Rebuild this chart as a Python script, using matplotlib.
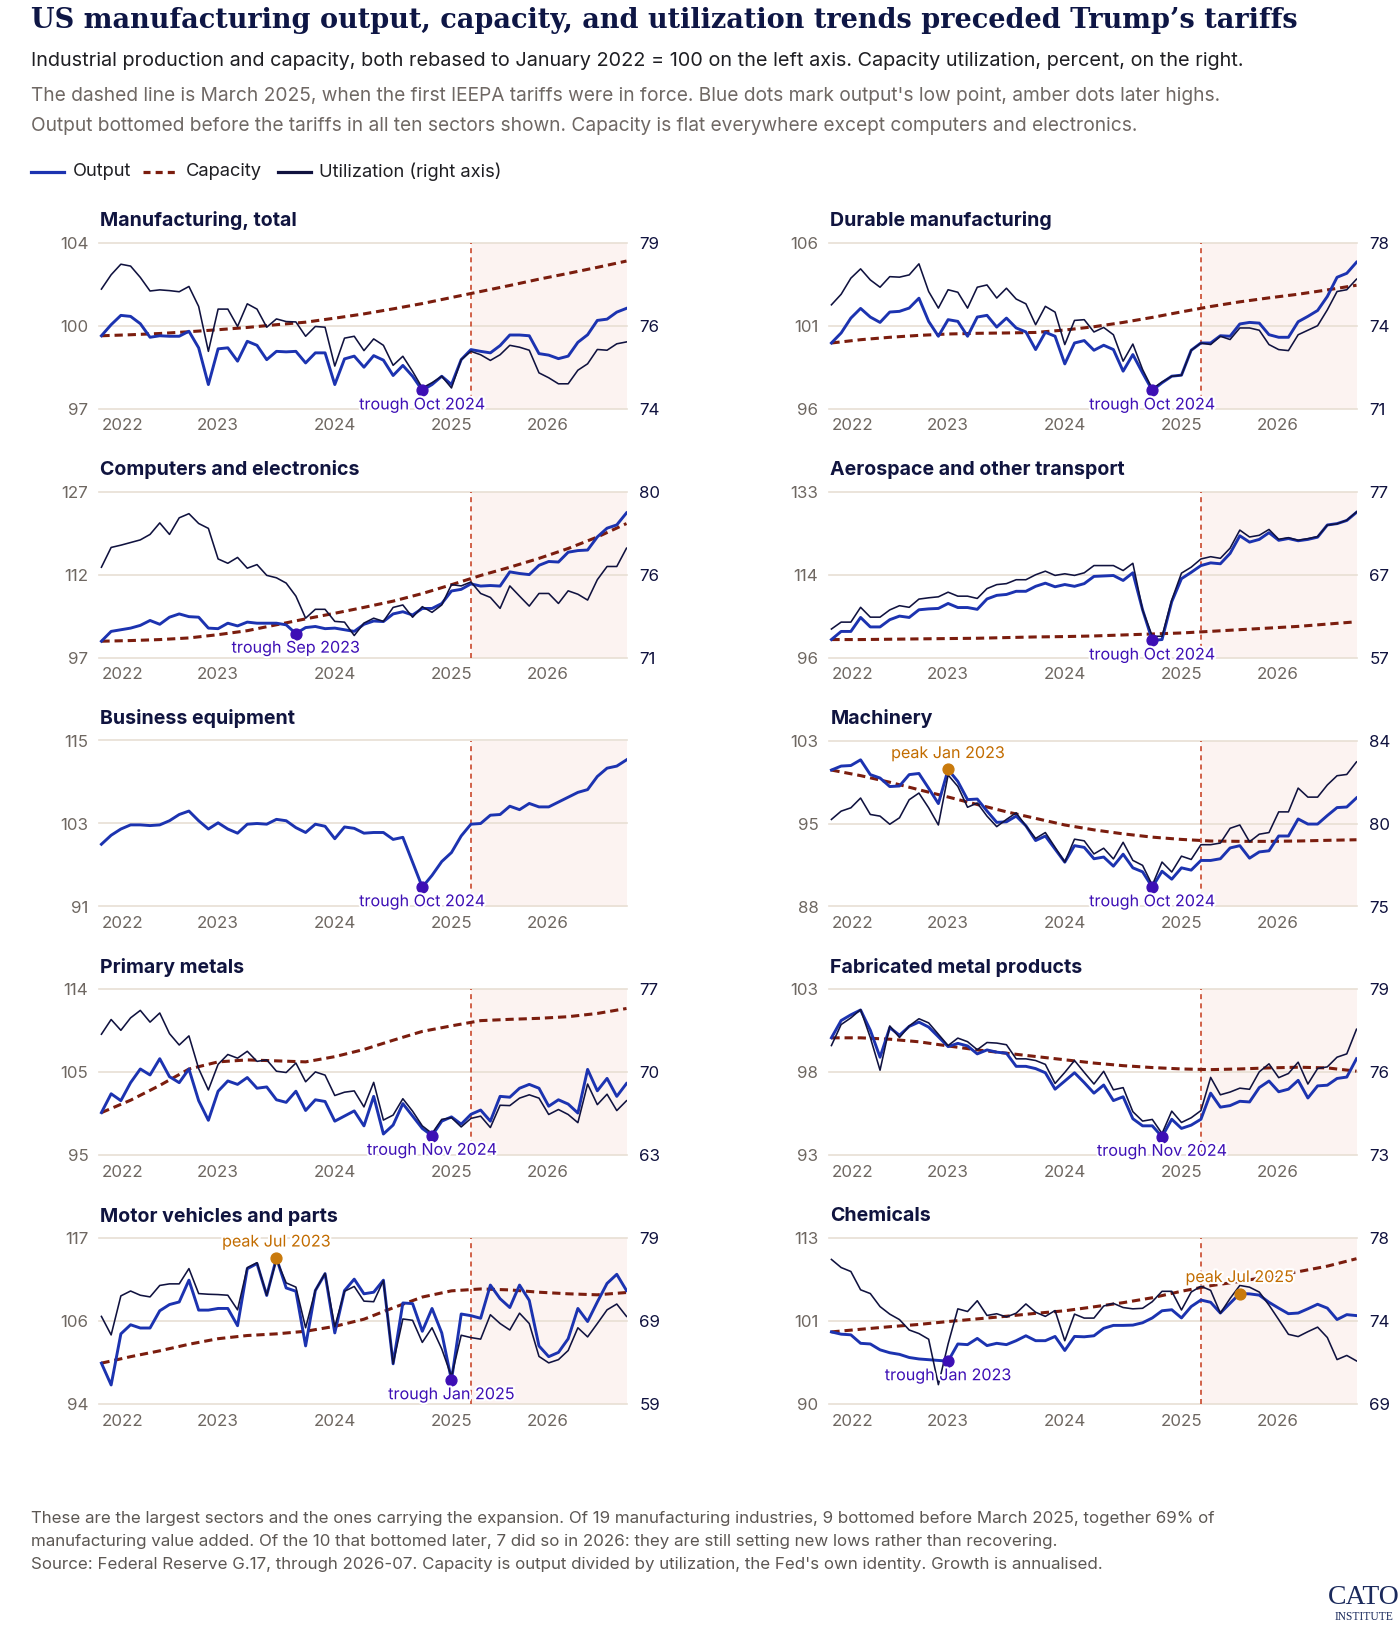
import matplotlib.pyplot as plt
import matplotlib.patheffects as pe
from matplotlib.lines import Line2D
import numpy as np
import pandas as pd

plt.rcParams['font.family'] = ['Inter', 'DejaVu Sans']

months = pd.date_range('2022-01-01', '2026-07-01', freq='MS')
tariff_month = '2025-03'
year_labels = ['2022', '2023', '2024', '2025', '2026']

# Manufacturing, total
mfg_output = [100.0, 100.44, 100.81, 100.77, 100.48, 99.94, 100.0, 99.98, 99.98, 100.18, 99.52, 98.06,
              99.48, 99.52, 98.99, 99.78, 99.62, 99.05, 99.38, 99.36, 99.38, 98.92, 99.32, 99.32,
              98.06, 99.08, 99.19, 98.75, 99.21, 99.03, 98.42, 98.82, 98.39, 97.83, 98.06, 98.39,
              98.06, 99.05, 99.45, 99.38, 99.32, 99.61, 100.03, 100.03, 100.0, 99.29, 99.23, 99.09,
              99.19, 99.74, 100.04, 100.61, 100.66, 100.94, 101.09]
mfg_util = [77.37, 77.75, 78.03, 77.98, 77.68, 77.32, 77.35, 77.33, 77.30, 77.44, 76.91, 75.72,
            76.84, 76.84, 76.38, 76.98, 76.84, 76.36, 76.58, 76.51, 76.50, 76.12, 76.38, 76.36,
            75.33, 76.07, 76.12, 75.74, 76.05, 75.88, 75.35, 75.59, 75.19, 74.75, 74.89, 75.06,
            74.75, 75.50, 75.72, 75.63, 75.48, 75.63, 75.88, 75.83, 75.75, 75.15, 75.02, 74.86,
            74.86, 75.22, 75.39, 75.77, 75.75, 75.92, 75.97]
mfg_capacity = [100.0, 100.04, 100.09, 100.16, 100.24, 100.33, 100.44, 100.54, 100.7, 100.87,
                101.07, 101.28, 101.52, 101.76, 102.0, 102.25, 102.48, 102.72, 102.97]

# Durable manufacturing
dur_output = [100.0, 100.58, 101.44, 102.0, 101.5, 101.19, 101.79, 101.83, 102.02, 102.59, 101.25, 100.39,
              101.35, 101.25, 100.39, 101.5, 101.6, 100.92, 101.44, 100.87, 100.64, 99.62, 100.62, 100.39,
              98.79, 100.0, 100.14, 99.58, 99.87, 99.62, 98.37, 99.33, 98.27, 97.26, 97.7, 98.08,
              98.14, 99.58, 100.0, 100.0, 100.42, 100.39, 101.1, 101.19, 101.15, 100.48, 100.33, 100.33,
              101.23, 101.54, 101.88, 102.69, 103.8, 104.03, 104.67]
dur_util = [75.13, 75.55, 76.19, 76.56, 76.12, 75.83, 76.25, 76.23, 76.32, 76.76, 75.66, 75.0,
            75.73, 75.63, 75.0, 75.83, 75.92, 75.4, 75.79, 75.36, 75.17, 74.34, 75.07, 74.84,
            73.55, 74.51, 74.54, 74.05, 74.23, 73.94, 72.89, 73.57, 72.56, 71.79, 72.06, 72.29,
            72.33, 73.32, 73.61, 73.55, 73.88, 73.75, 74.21, 74.21, 74.12, 73.55, 73.35, 73.31,
            73.94, 74.12, 74.3, 74.93, 75.66, 75.73, 76.15]
dur_capacity = [100.0, 100.19, 100.33, 100.44, 100.52, 100.56, 100.58, 100.61, 100.75, 100.94,
                101.19, 101.48, 101.8, 102.11, 102.38, 102.61, 102.82, 103.07, 103.34]

# Computers and electronics
comp_output = [100.0, 101.8, 102.1, 102.4, 102.9, 103.8, 103.1, 104.4, 105.0, 104.5, 104.4, 102.4,
               102.3, 103.3, 102.8, 103.5, 103.3, 103.3, 103.3, 103.0, 101.4, 102.5, 102.7, 102.3,
               102.4, 102.1, 101.8, 103.1, 103.7, 103.6, 105.0, 105.4, 104.8, 106.0, 106.0, 106.9,
               109.2, 109.5, 110.5, 110.1, 110.2, 110.1, 112.7, 112.4, 112.2, 113.9, 114.6, 114.5,
               116.3, 116.6, 116.7, 119.1, 120.7, 121.3, 123.5]
comp_util = [76.09, 77.14, 77.26, 77.4, 77.54, 77.83, 78.44, 77.83, 78.71, 78.93, 78.41, 78.15,
             76.53, 76.3, 76.61, 76.04, 76.23, 75.66, 75.53, 75.25, 74.56, 73.39, 73.86, 73.86,
             73.22, 73.18, 72.47, 73.13, 73.39, 73.22, 73.96, 74.09, 73.44, 74.0, 73.7, 74.09,
             75.17, 75.1, 75.31, 74.7, 74.49, 73.91, 75.1, 74.56, 74.03, 74.7, 74.7, 74.17,
             74.84, 74.66, 74.35, 75.43, 76.13, 76.13, 77.1]
comp_capacity = [100.0, 100.12, 100.3, 100.6, 101.2, 101.93, 103.01, 104.09, 105.12, 106.2,
                 107.34, 108.73, 110.35, 112.04, 113.55, 115.17, 116.98, 119.08, 121.55]

# Aerospace and other transport
aero_output = [100.0, 101.8, 101.8, 104.9, 102.8, 102.8, 104.4, 105.2, 104.9, 106.6, 106.8, 106.9,
               108.0, 107.1, 107.1, 106.7, 109.0, 109.8, 110.0, 110.7, 110.7, 111.8, 112.5, 111.7,
               112.2, 111.8, 112.4, 114.0, 114.1, 114.2, 113.1, 114.8, 106.6, 99.8, 100.0, 108.4,
               113.5, 114.9, 116.4, 117.0, 116.8, 119.1, 123.0, 121.6, 122.2, 123.7, 122.0, 122.4,
               121.9, 122.2, 122.7, 125.4, 125.7, 126.4, 128.2]
aero_util = [60.31, 61.16, 61.16, 62.98, 61.77, 61.77, 62.66, 63.18, 62.98, 63.99, 64.15, 64.27,
             64.84, 64.35, 64.35, 64.07, 65.28, 65.77, 65.89, 66.37, 66.37, 66.98, 67.42, 66.9,
             67.1, 66.9, 67.22, 68.11, 68.11, 68.11, 67.5, 68.39, 62.66, 59.42, 59.42, 63.87,
             67.18, 67.91, 68.92, 69.2, 69.0, 70.25, 72.47, 71.62, 71.83, 72.55, 71.34, 71.54,
             71.22, 71.42, 71.67, 73.08, 73.24, 73.69, 74.7]
aero_capacity = [100.0, 100.0, 100.07, 100.15, 100.22, 100.29, 100.44, 100.58, 100.66, 100.8,
                 101.02, 101.24, 101.46, 101.82, 102.19, 102.55, 102.92, 103.43, 103.94]

# Business equipment (output only)
biz_output = [100.0, 101.3, 102.2, 102.8, 102.8, 102.7, 102.8, 103.4, 104.3, 104.8, 103.4, 102.2,
              103.1, 102.2, 101.6, 102.9, 103.0, 102.9, 103.6, 103.4, 102.4, 101.7, 102.9, 102.6,
              100.8, 102.5, 102.3, 101.6, 101.7, 101.7, 100.7, 101.0, 97.4, 93.8, 95.5, 97.5,
              98.8, 101.2, 102.9, 103.0, 104.2, 104.3, 105.5, 105.0, 105.9, 105.4, 105.4, 106.1,
              106.8, 107.5, 107.9, 109.8, 111.0, 111.3, 112.2]

# Machinery
mach_output = [100.0, 100.35, 100.4, 100.9, 99.6, 99.3, 98.55, 98.6, 99.6, 99.7, 98.4, 97.05,
               100.05, 99.0, 97.4, 97.45, 96.4, 95.4, 95.45, 95.95, 95.1, 93.8, 94.2, 93.05,
               91.9, 93.35, 93.2, 92.2, 92.35, 91.55, 92.6, 91.4, 91.05, 89.7, 91.1, 90.4,
               91.4, 91.2, 92.05, 92.05, 92.2, 93.15, 93.35, 92.25, 92.8, 92.9, 94.2, 94.2,
               95.7, 95.25, 95.25, 96.0, 96.7, 96.75, 97.55]
mach_util = [79.92, 80.37, 80.55, 81.08, 80.19, 80.1, 79.66, 80.01, 80.99, 81.35, 80.55, 79.62,
             82.33, 81.71, 80.58, 80.81, 80.1, 79.53, 79.92, 80.28, 79.57, 78.89, 79.21, 78.41,
             77.61, 78.85, 78.76, 78.05, 78.36, 77.78, 78.68, 77.7, 77.43, 76.36, 77.61, 77.07,
             77.93, 77.75, 78.55, 78.55, 78.64, 79.44, 79.62, 78.71, 79.12, 79.21, 80.33, 80.33,
             81.62, 81.13, 81.13, 81.79, 82.29, 82.36, 83.04]
mach_capacity = [100.0, 99.51, 98.93, 98.27, 97.63, 96.97, 96.33, 95.75, 95.17, 94.74,
                 94.39, 94.1, 93.9, 93.76, 93.73, 93.73, 93.76, 93.82, 93.87]

# Primary metals
metal_output = [100.0, 102.2, 101.4, 103.5, 105.1, 104.4, 106.3, 104.2, 103.5, 105.1, 101.4, 99.1,
                102.5, 103.7, 103.3, 104.1, 102.85, 103.0, 101.5, 101.2, 102.5, 100.25, 101.5, 101.3,
                99.0, 99.6, 100.2, 98.45, 101.9, 97.5, 98.55, 101.05, 99.6, 98.15, 97.3, 99.0,
                99.5, 98.65, 99.8, 100.3, 99.0, 101.9, 101.8, 102.85, 103.3, 102.85, 100.75, 101.5,
                101.0, 99.95, 105.05, 102.55, 104.0, 101.9, 103.4]
metal_util = [73.22, 74.46, 73.55, 74.6, 75.23, 74.24, 75.01, 73.27, 72.31, 73.08, 70.32, 68.52,
              70.68, 71.51, 71.2, 71.78, 70.93, 71.06, 70.1, 69.99, 70.79, 69.21, 70.04, 69.77,
              68.05, 68.33, 68.44, 67.09, 69.16, 65.98, 66.4, 67.78, 66.73, 65.49, 64.85, 66.04,
              66.18, 65.4, 66.12, 66.31, 65.35, 67.23, 67.2, 67.83, 68.11, 67.83, 66.45, 66.87,
              66.45, 65.76, 69.02, 67.28, 68.16, 66.78, 67.61]
metal_capacity = [100.0, 101.45, 103.18, 105.09, 105.93, 106.16, 106.05, 105.93, 106.54, 107.38,
                  108.46, 109.49, 110.14, 110.75, 110.9, 111.02, 111.21, 111.59, 112.17]

# Fabricated metal products
fab_output = [100.0, 101.0, 101.33, 101.61, 100.44, 98.88, 100.59, 100.15, 100.66, 100.91, 100.62, 100.06,
              99.49, 99.68, 99.53, 99.07, 99.3, 99.17, 99.11, 98.35, 98.35, 98.22, 97.98, 97.03,
              97.5, 97.98, 97.41, 96.8, 97.27, 96.37, 96.59, 95.32, 94.91, 94.91, 94.28, 95.29,
              94.76, 94.95, 95.29, 96.8, 95.99, 96.08, 96.33, 96.29, 97.12, 97.5, 96.88, 97.03,
              97.54, 96.52, 97.22, 97.26, 97.65, 97.73, 98.79]
fab_util = [76.97, 77.73, 77.97, 78.27, 77.26, 76.08, 77.68, 77.26, 77.68, 77.94, 77.79, 77.38,
            76.97, 77.24, 77.11, 76.82, 77.08, 77.06, 77.0, 76.49, 76.49, 76.43, 76.29, 75.6,
            76.0, 76.43, 76.0, 75.58, 76.04, 75.37, 75.45, 74.58, 74.24, 74.3, 73.79, 74.6,
            74.19, 74.36, 74.62, 75.82, 75.19, 75.29, 75.43, 75.39, 76.02, 76.31, 75.81, 75.96,
            76.37, 75.58, 76.14, 76.2, 76.55, 76.67, 77.56]
fab_capacity = [100.0, 100.0, 99.92, 99.77, 99.53, 99.3, 99.11, 98.92, 98.73, 98.54,
                98.39, 98.28, 98.2, 98.16, 98.2, 98.26, 98.3, 98.26, 98.07]

# Motor vehicles and parts
motor_output = [100.0, 96.98, 104.06, 105.32, 104.87, 104.87, 107.26, 108.12, 108.48, 111.5, 107.35, 107.35,
                107.58, 107.58, 105.19, 113.08, 113.8, 109.38, 114.57, 110.42, 109.97, 102.39, 110.06, 112.4,
                104.19, 110.06, 111.64, 109.61, 109.83, 111.5, 99.91, 108.34, 108.25, 104.42, 107.58, 104.19,
                97.65, 106.81, 106.58, 106.22, 110.82, 108.93, 107.71, 110.82, 108.7, 102.39, 100.9, 101.49,
                103.38, 107.58, 105.77, 108.48, 111.05, 112.31, 110.06]
motor_util = [69.59, 67.36, 72.06, 72.65, 72.14, 71.94, 73.32, 73.51, 73.51, 75.35, 72.34, 72.26,
              72.22, 72.14, 70.38, 75.47, 76.06, 72.14, 76.45, 73.63, 73.12, 68.22, 72.73, 74.77,
              68.34, 72.61, 73.2, 71.43, 71.36, 73.9, 63.91, 69.28, 69.12, 66.46, 68.22, 65.67,
              62.34, 67.32, 67.04, 66.85, 69.79, 68.73, 67.95, 69.98, 68.73, 64.77, 63.99, 64.38,
              65.48, 68.22, 67.12, 68.73, 70.38, 71.08, 69.59]
motor_capacity = [100.0, 100.9, 101.71, 102.62, 103.39, 103.83, 104.06, 104.42, 105.1, 106.09,
                  107.67, 109.16, 110.02, 110.28, 110.15, 109.83, 109.61, 109.47, 109.79]

# Chemicals
chem_output = [100.0, 99.69, 99.6, 98.44, 98.35, 97.55, 97.15, 96.93, 96.5, 96.3, 96.2, 96.1,
               96.0, 98.35, 98.26, 99.11, 98.13, 98.44, 98.26, 98.8, 99.47, 98.8, 98.8, 99.38,
               97.46, 99.38, 99.33, 99.47, 100.49, 100.89, 100.89, 100.93, 101.25, 101.91, 102.89, 103.03,
               101.91, 103.47, 104.36, 104.05, 102.58, 103.92, 105.25, 105.2, 105.03, 104.05, 103.25, 102.49,
               102.58, 103.16, 103.78, 103.25, 101.69, 102.36, 102.23]
chem_util = [76.88, 76.45, 76.24, 75.27, 75.07, 74.38, 73.98, 73.69, 73.14, 72.95, 72.65, 70.24,
             72.4, 74.26, 74.12, 74.69, 73.91, 74.0, 73.83, 74.03, 74.52, 74.08, 73.86, 74.17,
             72.57, 73.98, 73.77, 73.77, 74.41, 74.55, 74.33, 74.26, 74.29, 74.64, 75.19, 75.19,
             74.2, 75.15, 75.46, 75.24, 74.03, 74.81, 75.5, 75.41, 75.15, 74.46, 73.69, 72.91,
             72.79, 73.05, 73.29, 72.74, 71.57, 71.79, 71.5]
chem_capacity = [100.0, 100.36, 100.71, 101.02, 101.42, 101.78, 102.14, 102.54, 102.89, 103.43,
                 104.0, 104.67, 105.56, 106.32, 106.9, 107.57, 108.23, 108.99, 110.01]

panels = [
    dict(title='Manufacturing, total', output=mfg_output, util=mfg_util, capacity=mfg_capacity,
         left=(97.1, 103.7), right=(74.2, 78.6), events=[('trough', '2024-10')]),
    dict(title='Durable manufacturing', output=dur_output, util=dur_util, capacity=dur_capacity,
         left=(96.2, 105.8), right=(71.0, 77.6), events=[('trough', '2024-10')]),
    dict(title='Computers and electronics', output=comp_output, util=comp_util, capacity=comp_capacity,
         left=(97.0, 127.4), right=(71.3, 80.1), events=[('trough', '2023-09')]),
    dict(title='Aerospace and other transport', output=aero_output, util=aero_util, capacity=aero_capacity,
         left=(96.0, 132.8), right=(56.8, 77.2), events=[('trough', '2024-10')]),
    dict(title='Business equipment', output=biz_output, util=None, capacity=None,
         left=(91.0, 115.0), right=None, events=[('trough', '2024-10')]),
    dict(title='Machinery', output=mach_output, util=mach_util, capacity=mach_capacity,
         left=(88.0, 102.6), right=(75.2, 84.2), events=[('peak', '2023-01'), ('trough', '2024-10')]),
    dict(title='Primary metals', output=metal_output, util=metal_util, capacity=metal_capacity,
         left=(95.0, 114.4), right=(63.0, 77.0), events=[('trough', '2024-11')]),
    dict(title='Fabricated metal products', output=fab_output, util=fab_util, capacity=fab_capacity,
         left=(93.2, 102.8), right=(73.0, 79.0), events=[('trough', '2024-11')]),
    dict(title='Motor vehicles and parts', output=motor_output, util=motor_util, capacity=motor_capacity,
         left=(94.3, 117.3), right=(59.0, 79.0), events=[('peak', '2023-07'), ('trough', '2025-01')]),
    dict(title='Chemicals', output=chem_output, util=chem_util, capacity=chem_capacity,
         left=(90.1, 112.8), right=(69.2, 78.0), events=[('trough', '2023-01'), ('peak', '2025-07')]),
]

# colours
BLUE = '#1c33b0'
NAVY = '#10123f'
CAP = '#7b1d0e'
TROUGH = '#3d0fb5'
PEAK = '#c97a0c'
PEAK_TXT = '#c26c00'
SHADE = '#fcf3f1'
VLINE = '#c9482c'
GRID = '#e8dfd4'
GRAY = '#6e6761'
INK = '#1f1f23'

W, H = 1400, 1626
fig = plt.figure(figsize=(W / 100, H / 100), dpi=100)

x = np.arange(len(months))
cap_x = x[::3]
tariff_x = months.get_loc(pd.Timestamp(tariff_month + '-01'))
year_x = [months.get_loc(pd.Timestamp(y + '-01-01')) for y in year_labels]

for i, p in enumerate(panels):
    row, col = divmod(i, 2)
    left_px = [98.5, 828.5][col]
    top_px = 242.7 + 248.9 * row
    ax = fig.add_axes([left_px / W, 1 - (top_px + 166) / H, 528 / W, 166 / H])
    ax.set_xlim(-0.3, x[-1])
    lo, hi = p['left']
    ax.set_ylim(lo, hi)
    ticks = [lo, (lo + hi) / 2, hi]
    ax.set_yticks(ticks)
    ax.set_yticklabels([f'{t:.0f}' for t in ticks])
    for t in ticks:
        ax.axhline(t, color=GRID, lw=1.2, zorder=0.5, clip_on=False)

    # tariff period
    ax.axvspan(tariff_x, x[-1], color=SHADE, lw=0, zorder=0)
    ax.axvline(tariff_x, color=VLINE, lw=1.2, dashes=(3, 2.5), zorder=1)

    if p['capacity'] is not None:
        ax.plot(cap_x, p['capacity'], color=CAP, lw=2.2, dashes=(2.7, 1.6), zorder=2)
    ax.plot(x, p['output'], color=BLUE, lw=2.1, zorder=3, solid_joinstyle='round')

    ax.set_xticks(year_x)
    ax.set_xticklabels(year_labels)
    xl = ax.get_xticklabels()
    xl[0].set_ha('left')
    xl[-1].set_ha('right')
    ax.tick_params(axis='x', length=0, pad=7, labelsize=12.2, labelcolor=GRAY)
    ax.tick_params(axis='y', length=0, pad=7.3, labelsize=12.2, labelcolor=GRAY)
    for s in ax.spines.values():
        s.set_visible(False)

    top_ax = ax
    if p['util'] is not None:
        ax2 = ax.twinx()
        ax2.plot(x, p['util'], color=NAVY, lw=1.15, zorder=3)
        rlo, rhi = p['right']
        ax2.set_ylim(rlo, rhi)
        rt = [rlo, (rlo + rhi) / 2, rhi]
        ax2.set_yticks(rt)
        ax2.set_yticklabels([f'{t:.0f}' for t in rt])
        ax2.tick_params(axis='y', length=0, pad=9.3, labelsize=12.2, labelcolor=NAVY)
        for s in ax2.spines.values():
            s.set_visible(False)
        top_ax = ax2

    # trough / peak markers
    for kind, m in p['events']:
        idx = months.get_loc(pd.Timestamp(m + '-01'))
        yv = p['output'][idx]
        label = f"{kind} {months[idx].strftime('%b %Y')}"
        dot = TROUGH if kind == 'trough' else PEAK
        txt = TROUGH if kind == 'trough' else PEAK_TXT
        dy = -10.5 if kind == 'trough' else 11.5
        top_ax.plot([idx], [yv], 'o', ms=7.8, color=dot, transform=ax.transData,
                    zorder=6, clip_on=False)
        top_ax.annotate(label, xy=(idx, yv), xycoords=ax.transData, xytext=(0, dy),
                        textcoords='offset points', ha='center', va='center',
                        fontsize=11.6, color=txt, zorder=7, annotation_clip=False,
                        path_effects=[pe.withStroke(linewidth=3, foreground='white')])
    ax.set_ylim(lo, hi)

    fig.text((left_px + 2) / W, 1 - (top_px - 22) / H, p['title'], fontsize=14.1,
             fontweight='bold', color='#10143f', va='center')

# header
fig.text(31 / W, 1 - 20 / H,
         'US manufacturing output, capacity, and utilization trends preceded Trump\u2019s tariffs',
         family='DejaVu Serif', fontweight='bold', fontsize=19.5, color='#0e1645', va='center')
fig.text(31 / W, 1 - 61.5 / H,
         'Industrial production and capacity, both rebased to January 2022 = 100 on the left axis. '
         'Capacity utilization, percent, on the right.', fontsize=14.3, color=INK, va='center')
fig.text(31 / W, 1 - 96 / H,
         "The dashed line is March 2025, when the first IEEPA tariffs were in force. "
         "Blue dots mark output's low point, amber dots later highs.",
         fontsize=13.8, color='#6f6864', va='center')
fig.text(31 / W, 1 - 126 / H,
         'Output bottomed before the tariffs in all ten sectors shown. '
         'Capacity is flat everywhere except computers and electronics.',
         fontsize=13.8, color='#6f6864', va='center')

# legend
ly = 1 - 172 / H
fig.add_artist(Line2D([31 / W, 64 / W], [ly, ly], color=BLUE, lw=2.3))
fig.text(72.6 / W, ly, 'Output', fontsize=13.2, color=INK, va='center')
fig.add_artist(Line2D([143 / W, 176 / W], [ly, ly], color=CAP, lw=2.3, dashes=(2.2, 1.6)))
fig.text(185.6 / W, ly, 'Capacity', fontsize=13.2, color=INK, va='center')
fig.add_artist(Line2D([278 / W, 311 / W], [ly, ly], color=NAVY, lw=2.3))
fig.text(319 / W, ly, 'Utilization (right axis)', fontsize=13.2, color=INK, va='center')

# footer
foot = ['These are the largest sectors and the ones carrying the expansion. Of 19 manufacturing '
        'industries, 9 bottomed before March 2025, together 69% of',
        'manufacturing value added. Of the 10 that bottomed later, 7 did so in 2026: they are still '
        'setting new lows rather than recovering.',
        "Source: Federal Reserve G.17, through 2026-07. Capacity is output divided by utilization, "
        "the Fed's own identity. Growth is annualised."]
for k, line in enumerate(foot):
    fig.text(31 / W, 1 - (1518 + 23 * k) / H, line, fontsize=12.2, color='#5c5753', va='center')

fig.text(1364 / W, 1 - 1597 / H, 'CATO', family='Liberation Serif', fontsize=20,
         color='#1b2a5c', ha='center', va='center')
fig.text(1364 / W, 1 - 1617 / H, 'INSTITUTE', family='Liberation Serif', fontsize=8.3,
         color='#1b2a5c', ha='center', va='center')

fig.savefig('out.png', dpi=100, facecolor='white')
